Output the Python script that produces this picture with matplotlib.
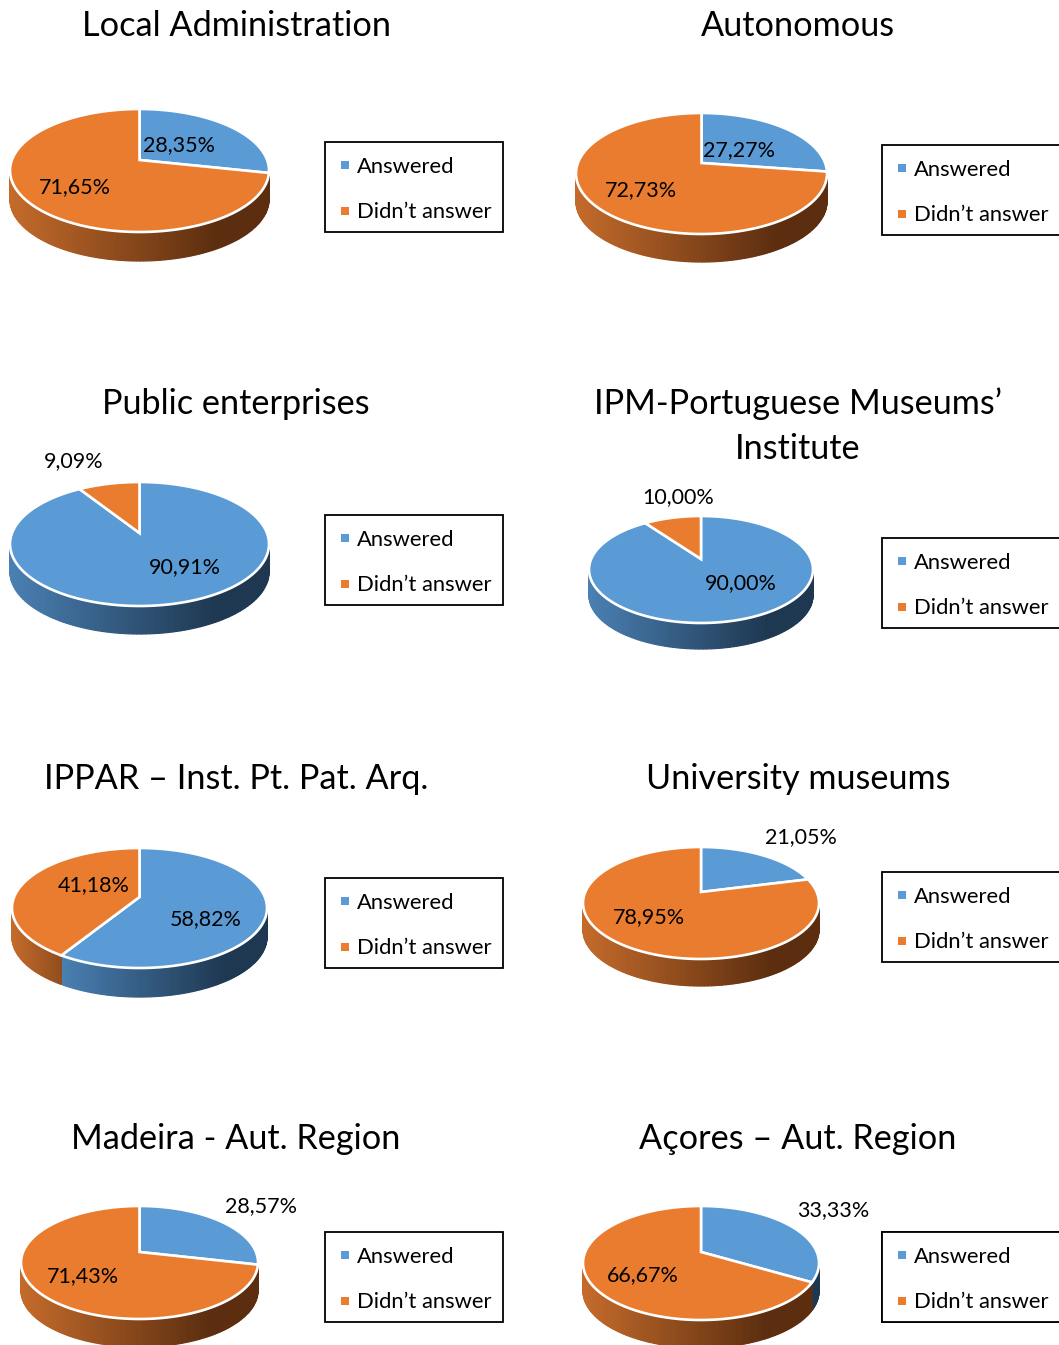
import matplotlib
matplotlib.use("Agg")
import matplotlib.pyplot as plt
import numpy as np
from matplotlib.lines import Line2D

plt.rcParams["font.family"] = ["Lato", "DejaVu Sans"]

titles = ["Local Administration", "Autonomous", "Public enterprises",
          "IPM-Portuguese Museums’\nInstitute", "IPPAR – Inst. Pt. Pat. Arq.",
          "University museums", "Madeira - Aut. Region", "Açores – Aut. Region"]
series = ["Answered", "Didn’t answer"]
answered = [28.35, 27.27, 90.91, 90.00, 58.82, 21.05, 28.57, 33.33]
not_answered = [71.65, 72.73, 9.09, 10.00, 41.18, 78.95, 71.43, 66.67]

# layout, in image pixels
# left, right, top of disc, vertex, bottom of disc, wall depth
pie_boxes = [(10, 269, 109, 160, 232, 29), (576, 827, 113, 163, 234, 28),
             (10, 269, 482, 533, 606, 28), (589, 813, 516, 559, 623, 26),
             (12, 267, 848, 897, 968, 29), (583, 819, 847, 892, 959, 27),
             (21, 258, 1206, 1252, 1319, 28), (583, 819, 1206, 1252, 1320, 28)]
title_pos = [(236, 26), (798, 26), (236, 404), (798, 426),
             (236, 779), (798, 779), (236, 1139), (798, 1139)]
legend_pos = [(325, 142), (882, 145), (325, 515), (882, 538),
              (325, 878), (882, 872), (325, 1232), (882, 1232)]
label_a = [(179, 145), (739, 150), (185, 567), (741, 583),
           (206, 919), (801, 837), (261, 1206), (833, 1210)]
label_b = [(75, 187), (641, 190), (74, 461), (678, 497),
           (94, 885), (649, 917), (83, 1276), (643, 1275)]

TOP_COLORS = ["#5B9BD5", "#EA7C30"]
WALL_LIGHT = [(0.29, 0.50, 0.70), (0.77, 0.42, 0.17)]
WALL_DARK = [(0.12, 0.22, 0.32), (0.36, 0.18, 0.06)]


def wall_color(i, t):
    t = min(t / 0.8, 1.0)
    light, dark = np.array(WALL_LIGHT[i]), np.array(WALL_DARK[i])
    return tuple(light + (dark - light) * t)


def draw_pie(ax, values, box):
    left, right, top, yv, bottom, depth = box
    up, dn = yv - top, bottom - yv
    k = (dn - up) / (dn + up)
    b = up * (1 + k)
    a = (right - left) / 2 * np.sqrt(1 - k * k)
    cx = (left + right) / 2

    def rim(th):
        d = 1 + k * np.cos(th)
        return cx + a * np.sin(th) / d, yv - b * np.cos(th) / d

    edges = np.radians(np.cumsum([0] + list(values)) * 3.6)

    # walls first, the disc covers whatever is behind it
    for i in range(2):
        th = np.linspace(edges[i], edges[i + 1], 200)
        x_all, _ = rim(th)
        # gradient runs over the whole slice, not only its visible part
        x0, x1 = min(x_all.min(), cx), max(x_all.max(), cx)
        th = th[np.cos(th) < -k + 0.03]
        if len(th) < 2:
            continue
        x, y = rim(th)
        for j in range(len(th) - 1):
            c = wall_color(i, (x[j] - x0) / (x1 - x0))
            ax.fill([x[j], x[j + 1], x[j + 1], x[j]],
                    [y[j], y[j + 1], y[j + 1] + depth, y[j] + depth],
                    facecolor=c, edgecolor=c, linewidth=0.9, zorder=2)

    for i in range(2):
        th = np.linspace(edges[i], edges[i + 1], 200)
        x, y = rim(th)
        ax.fill(np.r_[cx, x], np.r_[yv, y], facecolor=TOP_COLORS[i],
                edgecolor="white", linewidth=1.9, zorder=3)


def pct(v):
    return f"{v:.2f}".replace(".", ",") + "%"


fig = plt.figure(figsize=(10.59, 13.45), dpi=100)
ax = fig.add_axes([0, 0, 1, 1])
ax.set_xlim(0, 1059)
ax.set_ylim(1345, 0)
ax.axis("off")

handles = [Line2D([], [], marker="s", linestyle="none", markersize=6,
                  markeredgewidth=0, color=c) for c in TOP_COLORS]

for n in range(8):
    draw_pie(ax, [answered[n], not_answered[n]], pie_boxes[n])
    ax.text(*title_pos[n], titles[n], ha="center", va="center", fontsize=24.7,
            color="black", linespacing=1.48)
    ax.text(*label_a[n], pct(answered[n]), ha="center", va="center",
            fontsize=15.5, color="black", zorder=5)
    ax.text(*label_b[n], pct(not_answered[n]), ha="center", va="center",
            fontsize=15.5, color="black", zorder=5)
    leg = ax.legend(handles, series, loc="upper left", bbox_to_anchor=legend_pos[n],
                    bbox_transform=ax.transData, borderaxespad=0, fontsize=15.8,
                    frameon=True, fancybox=False, framealpha=1, edgecolor="black",
                    handlelength=0.7, handletextpad=0.2, labelspacing=1.17,
                    borderpad=0.55)
    leg.get_frame().set_linewidth(1.3)
    # rows sit a little lower in the box than matplotlib centres them
    for t in leg.get_texts():
        t.set_y(-2.5)
    for h in leg.legend_handles:
        h.set_ydata(np.asarray(h.get_ydata()) - 2.0)
    ax.add_artist(leg)

fig.savefig("out.png", dpi=100)
